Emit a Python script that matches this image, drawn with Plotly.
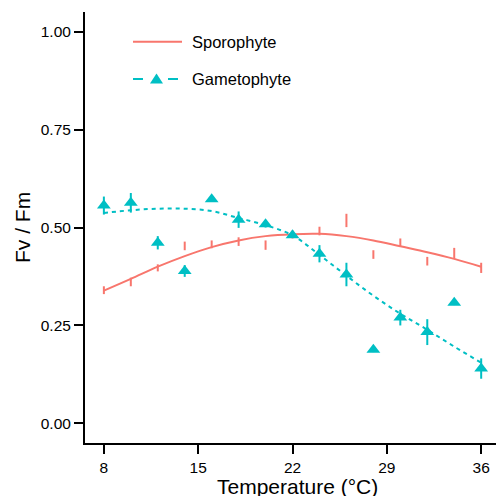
import plotly.graph_objects as go

# ---- data ----
temps = [8, 10, 12, 14, 16, 18, 20, 22, 24, 26, 28, 30, 32, 34, 36]

sporo_mean = [0.340, 0.361, 0.397, 0.453, 0.457, 0.464, 0.455, 0.482,
              0.491, 0.518, 0.431, 0.462, 0.414, 0.434, 0.397]
sporo_err = [0.010, 0.011, 0.009, 0.011, 0.010, 0.011, 0.012, 0.010,
             0.011, 0.017, 0.011, 0.010, 0.011, 0.014, 0.013]

game_mean = [0.556, 0.563, 0.461, 0.389, 0.572, 0.520, 0.508, 0.480,
             0.433, 0.380, 0.188, 0.270, 0.233, 0.308, 0.140]
game_err = [0.023, 0.025, 0.017, 0.015, 0.006, 0.021, 0.008, 0.006,
            0.022, 0.030, 0.006, 0.020, 0.033, 0.006, 0.026]

# fitted (smoothed) curves as drawn in the reference
sporo_fit = [0.339, 0.369, 0.400, 0.427, 0.450, 0.467, 0.478, 0.483,
             0.484, 0.478, 0.467, 0.452, 0.437, 0.420, 0.400]
game_fit = [0.537, 0.544, 0.548, 0.548, 0.542, 0.524, 0.506, 0.480,
            0.430, 0.377, 0.326, 0.280, 0.239, 0.196, 0.155]

x_ticks = [8, 15, 22, 29, 36]
y_ticks = [0.0, 0.25, 0.5, 0.75, 1.0]
y_tick_text = ["0.00", "0.25", "0.50", "0.75", "1.00"]

series_names = ["Sporophyte", "Gametophyte"]
x_title = "Temperature (°C)"
y_title = "Fv / Fm"
RED = "#F8766D"
CYAN = "#00BFC4"

# ---- layout geometry ----
W, H = 496, 496
ML, MR, MT, MB = 85, 0, 12, 53
PW, PH = W - ML - MR, H - MT - MB
FONT = "Liberation Sans, Arial, sans-serif"


def px_x(p):
    return (p - ML) / PW


def px_y(p):
    return (H - MB - p) / PH


fig = go.Figure()

# Sporophyte: error bars only
fig.add_trace(go.Scatter(
    x=temps, y=sporo_mean, mode="markers",
    marker=dict(size=2, color=RED, opacity=0),
    error_y=dict(type="data", array=sporo_err, color=RED, thickness=2, width=0),
    showlegend=False, hoverinfo="skip"))
fig.add_trace(go.Scatter(
    x=temps, y=sporo_fit, mode="lines", line=dict(color=RED, width=2, shape="spline"),
    showlegend=False, name=series_names[0]))

# Gametophyte: triangles + error bars
fig.add_trace(go.Scatter(
    x=temps, y=game_mean, mode="markers",
    marker=dict(symbol="triangle-up", size=12, color=CYAN),
    error_y=dict(type="data", array=game_err, color=CYAN, thickness=2, width=0),
    showlegend=False, name=series_names[1]))
fig.add_trace(go.Scatter(
    x=temps, y=game_fit, mode="lines",
    line=dict(color=CYAN, width=2, dash="4px,4px", shape="spline"),
    showlegend=False))

# ---- manual legend ----
shapes = []
annotations = []
# Sporophyte key
shapes.append(dict(type="line", xref="paper", yref="paper",
                   x0=px_x(133), x1=px_x(182), y0=px_y(41.7), y1=px_y(41.7),
                   line=dict(color=RED, width=2)))
annotations.append(dict(xref="paper", yref="paper", x=px_x(190), y=px_y(41.7),
                        text=series_names[0], showarrow=False, xanchor="left",
                        yanchor="middle", font=dict(family=FONT, size=16.5, color="#000")))
# Gametophyte key
gy = 79
shapes.append(dict(type="line", xref="paper", yref="paper",
                   x0=px_x(133), x1=px_x(143), y0=px_y(gy), y1=px_y(gy),
                   line=dict(color=CYAN, width=2)))
shapes.append(dict(type="line", xref="paper", yref="paper",
                   x0=px_x(168), x1=px_x(178), y0=px_y(gy), y1=px_y(gy),
                   line=dict(color=CYAN, width=2)))
cx, top, bot, hw = 156.5, 73.5, 83.5, 6.5
path = "M {:.5f} {:.5f} L {:.5f} {:.5f} L {:.5f} {:.5f} Z".format(
    px_x(cx - hw), px_y(bot), px_x(cx + hw), px_y(bot), px_x(cx), px_y(top))
shapes.append(dict(type="path", xref="paper", yref="paper", path=path,
                   fillcolor=CYAN, line=dict(color=CYAN, width=0)))
annotations.append(dict(xref="paper", yref="paper", x=px_x(190), y=px_y(gy),
                        text=series_names[1], showarrow=False, xanchor="left",
                        yanchor="middle", font=dict(family=FONT, size=16.5, color="#000")))

# axis titles
annotations.append(dict(xref="paper", yref="paper", x=px_x(297), y=px_y(486),
                        text=x_title, showarrow=False, xanchor="center",
                        yanchor="middle", font=dict(family=FONT, size=21, color="#000")))
annotations.append(dict(xref="paper", yref="paper", x=px_x(22), y=px_y(228),
                        text=y_title, showarrow=False, xanchor="center",
                        yanchor="middle", textangle=-90,
                        font=dict(family=FONT, size=21, color="#000")))

fig.update_layout(
    width=W, height=H,
    margin=dict(l=ML, r=MR, t=MT, b=MB, pad=0),
    paper_bgcolor="white", plot_bgcolor="white",
    font=dict(family=FONT, size=15.5, color="#000"),
    shapes=shapes, annotations=annotations,
    showlegend=False,
    xaxis=dict(range=[6.6, 37.1], tickvals=x_ticks, ticks="outside", ticklen=9,
               tickwidth=2, tickcolor="#000", showline=True, linecolor="#000",
               linewidth=2, showgrid=False, zeroline=False, automargin=False,
               tickfont=dict(family=FONT, size=15.5, color="#000")),
    yaxis=dict(range=[-0.05, 1.05], tickvals=y_ticks, ticktext=y_tick_text,
               ticks="outside", ticklen=9, tickwidth=2, tickcolor="#000",
               showline=True, linecolor="#000", linewidth=2, showgrid=False,
               zeroline=False, automargin=False,
               tickfont=dict(family=FONT, size=15.5, color="#000")),
)

fig.write_html("out.html",
               config={"displayModeBar": False},
               post_script="document.body.style.margin='0';document.body.style.overflow='hidden';")
